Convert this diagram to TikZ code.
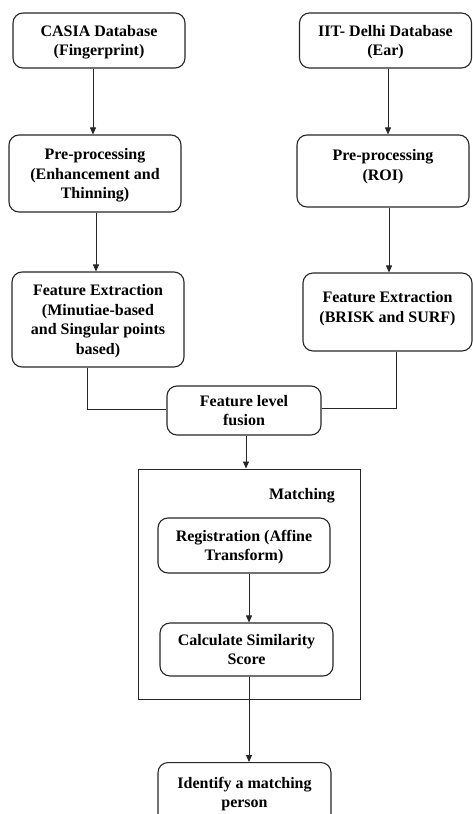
\documentclass[tikz,border=0pt]{standalone}
\usepackage{fontspec}
\setmainfont{Liberation Serif}
\usetikzlibrary{arrows.meta}
\tikzset{
  box/.style={draw=black!85, line width=1.1pt, rounded corners=10pt, align=center,
    font=\bfseries\fontsize{16}{19.5}\selectfont, inner sep=0pt, text depth=-2.5pt},
  arr/.style={draw=black!85, line width=0.9pt, -{Triangle[length=7pt,width=6pt]}},
  ln/.style={draw=black!85, line width=0.9pt},
  frame/.style={draw=black!85, line width=1pt},
}
\begin{document}
\begin{tikzpicture}[x=1pt,y=-1pt]
\useasboundingbox (0,0) rectangle (473,814);
\clip (0,0) rectangle (473,814);
\node[box, minimum width=172pt, minimum height=55pt] (casia) at (99,40.5) {CASIA Database\\(Fingerprint)};
\node[box, minimum width=172pt, minimum height=55pt] (iit) at (385.5,40.5) {IIT- Delhi Database\\(Ear)};
\node[box, minimum width=172pt, minimum height=77pt] (pre1) at (95,173.5) {Pre-processing\\(Enhancement and\\Thinning)};
\node[box, minimum width=172pt, minimum height=72pt, text depth=12.5pt] (pre2) at (383,171) {Pre-processing\\(ROI)};
\node[box, minimum width=172pt, minimum height=95pt, text depth=-3pt] (fe1) at (98,319.5) {Feature Extraction\\(Minutiae-based\\and Singular points\\based)};
\node[box, minimum width=169pt, minimum height=78pt, text depth=10.5pt] (fe2) at (387.5,312) {Feature Extraction\\(BRISK and SURF)};
\node[box, minimum width=154pt, minimum height=49pt, text depth=-4.5pt] (fusion) at (244,410.5) {Feature level\\fusion};
\node[frame, minimum width=222pt, minimum height=230pt, inner sep=0pt] (matching) at (249,584) {};
\node[font=\bfseries\fontsize{16}{19.5}\selectfont, inner sep=0pt] (mlabel) at (302,496) {Matching};
\node[box, minimum width=172pt, minimum height=55pt, text depth=0.5pt] (reg) at (244,545.5) {Registration (Affine\\Transform)};
\node[box, minimum width=173pt, minimum height=53pt, text depth=-4pt] (calc) at (246.5,649.5) {Calculate Similarity\\Score};
\node[box, minimum width=173pt, minimum height=80pt, anchor=north, text depth=20.5pt] (ident) at (244.5,762) {Identify a matching\\person};

\draw[arr] (casia.south -| 93,0) -- (pre1.north -| 93,0);
\draw[arr] (iit.south -| 388,0) -- (pre2.north -| 388,0);
\draw[arr] (pre1.south -| 96,0) -- (fe1.north -| 96,0);
\draw[arr] (pre2.south -| 389,0) -- (fe2.north -| 389,0);
\draw[ln] (fe1.south -| 87,0) |- (fusion.west |- 0,409);
\draw[ln] (fe2.south -| 396,0) |- (fusion.east |- 0,408);
\draw[arr] (fusion.south -| 246,0) -- (matching.north -| 246,0);
\draw[arr] (reg.south -| 249,0) -- (calc.north -| 249,0);
\draw[arr] (calc.south -| 249,0) -- (ident.north -| 249,0);
\end{tikzpicture}
\end{document}
